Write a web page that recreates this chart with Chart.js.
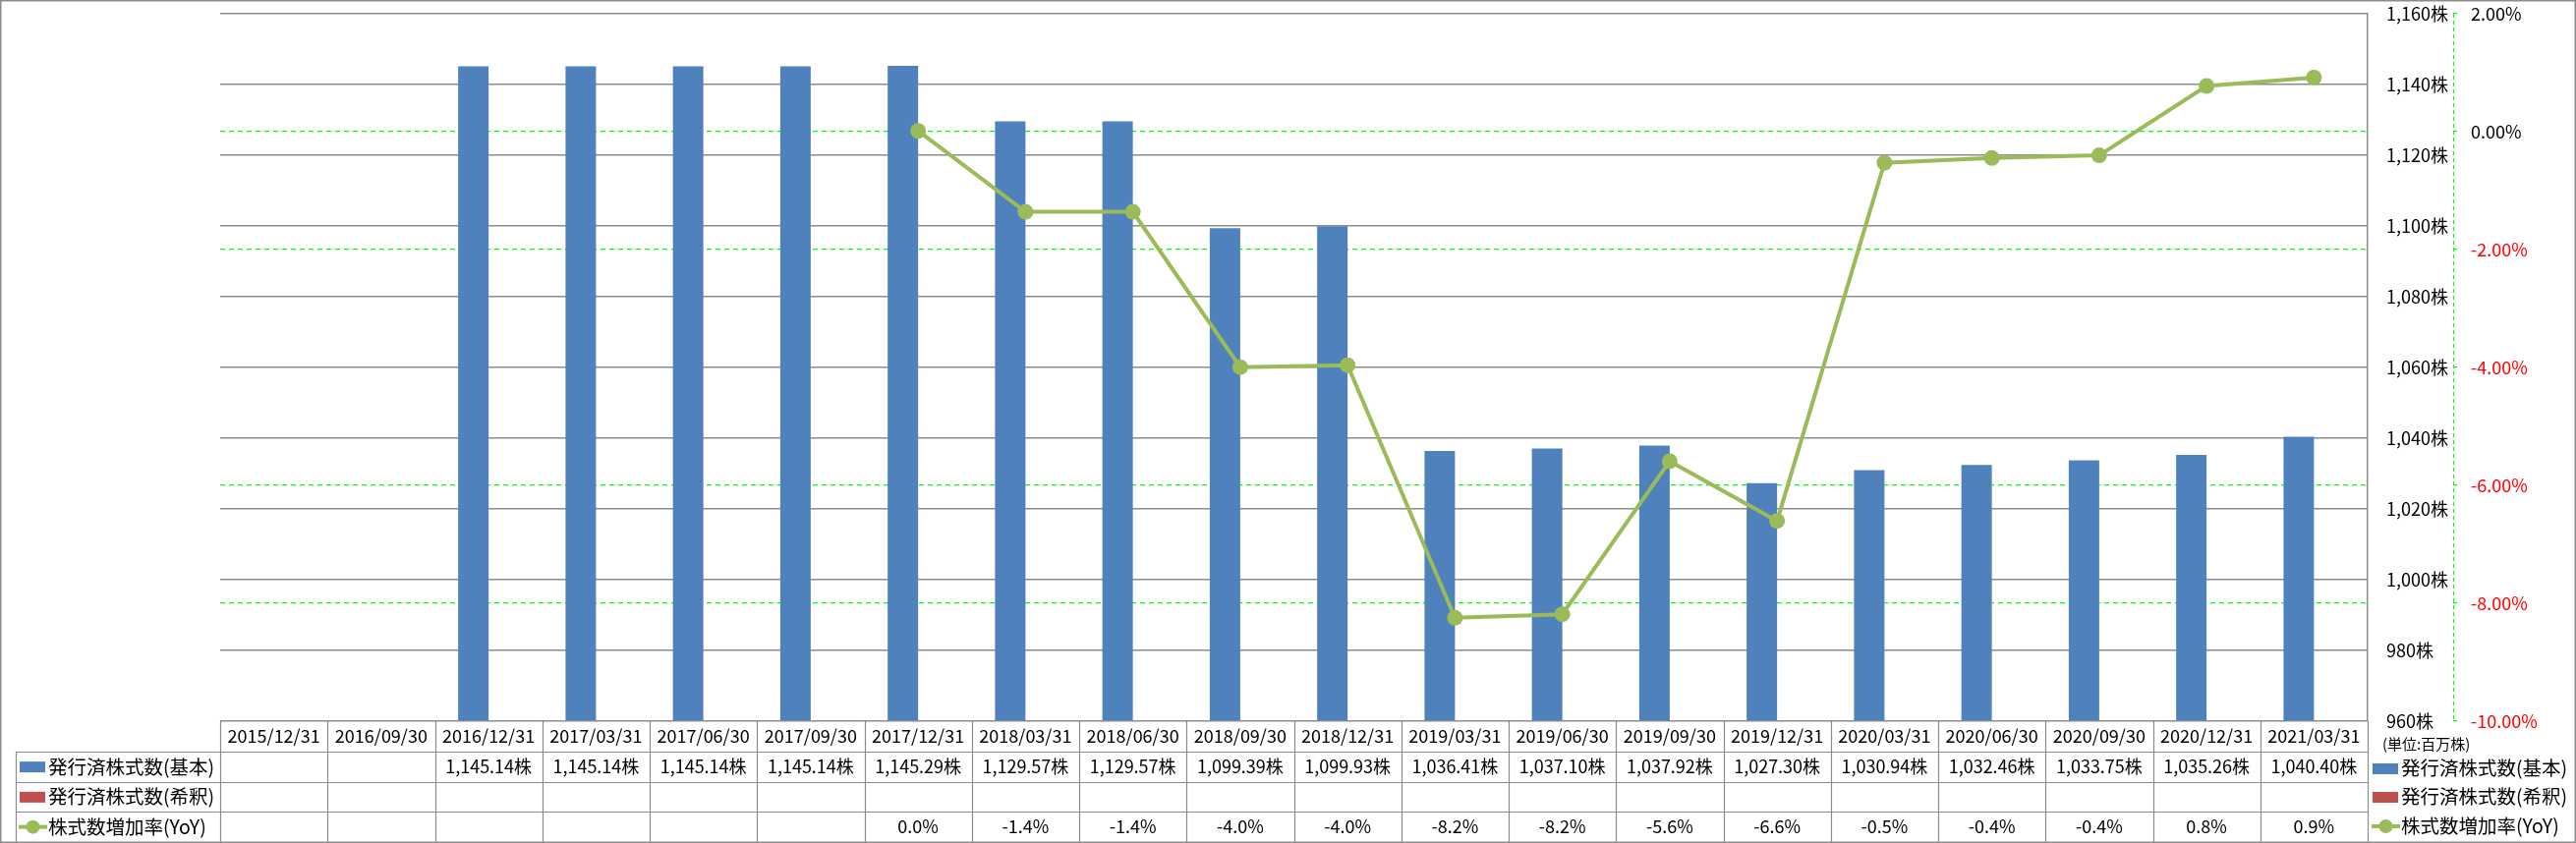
<!DOCTYPE html>
<html>
<head>
<meta charset="utf-8">
<script src="https://cdn.jsdelivr.net/npm/chart.js@4.4.0/dist/chart.umd.min.js"></script>
<style>
  html, body { margin: 0; padding: 0; background: #fff; }
  #wrap { width: 2621px; height: 858px; }
</style>
</head>
<body>
<div id="wrap"><canvas id="shares-chart" width="2621" height="858"></canvas></div>
<script>
// data
const periods = ['2015/12/31', '2016/09/30', '2016/12/31', '2017/03/31', '2017/06/30', '2017/09/30',
  '2017/12/31', '2018/03/31', '2018/06/30', '2018/09/30', '2018/12/31', '2019/03/31', '2019/06/30',
  '2019/09/30', '2019/12/31', '2020/03/31', '2020/06/30', '2020/09/30', '2020/12/31', '2021/03/31'];
const basicShares = [null, null, 1145.14, 1145.14, 1145.14, 1145.14, 1145.29, 1129.57, 1129.57, 1099.39,
  1099.93, 1036.41, 1037.10, 1037.92, 1027.30, 1030.94, 1032.46, 1033.75, 1035.26, 1040.40];
const dilutedShares = [null, null, null, null, null, null, null, null, null, null,
  null, null, null, null, null, null, null, null, null, null];
const yoyRate = [null, null, null, null, null, null, 0.013, -1.36, -1.36, -3.995,
  -3.961, -8.247, -8.186, -5.591, -6.603, -0.528, -0.447, -0.402, 0.775, 0.918];
const seriesNames = ['発行済株式数(基本)', '発行済株式数(希釈)', '株式数増加率(YoY)'];
const sharesTicks = [960, 980, 1000, 1020, 1040, 1060, 1080, 1100, 1120, 1140, 1160];
const rateTicks = [-10, -8, -6, -4, -2, 0, 2];
const unitLabel = '(単位:百万株)';

const basicColor = '#4f81bd';
const dilutedColor = '#c0504d';
const lineColor = '#9bbb59';
const gridGray = '#8c8c8c';
const dashGreen = '#00ff00';
const fontFamily = "'Noto Sans CJK JP', 'Noto Sans', sans-serif";

function fmtShares(v) {
  return v.toLocaleString('en-US', { minimumFractionDigits: 2, maximumFractionDigits: 2 }) + '株';
}

function drawLegendSymbol(ctx, i, x, y) {
  if (i < 2) {
    ctx.fillStyle = i === 0 ? basicColor : dilutedColor;
    ctx.fillRect(x, y - 5, 26, 11);
  } else {
    ctx.strokeStyle = lineColor;
    ctx.lineWidth = 4;
    ctx.beginPath();
    ctx.moveTo(x - 1, y);
    ctx.lineTo(x + 28, y);
    ctx.stroke();
    ctx.fillStyle = lineColor;
    ctx.beginPath();
    ctx.arc(x + 13.5, y, 7, 0, Math.PI * 2);
    ctx.fill();
  }
}

// the axes should not push the plot down, Excel keeps it at the frame
function fixAxis(width) {
  return s => {
    s.width = width;
    s.paddingTop = 0;
    s.paddingBottom = 0;
  };
}

/* draws the data table under the plot, both legends and the frame */
const dataTablePlugin = {
  id: 'dataTable',
  beforeDraw(chart) {
    const ctx = chart.ctx;
    ctx.save();
    ctx.fillStyle = '#fff';
    ctx.fillRect(0, 0, chart.width, chart.height);
    ctx.restore();
  },
  afterDraw(chart) {
    const ctx = chart.ctx;
    const area = chart.chartArea;
    const colW = (area.right - area.left) / periods.length;
    const tableTop = area.bottom;
    const tableBottom = chart.height - 1;
    const rowH = (tableBottom - tableTop) / 4;
    const leftEdge = 16;

    ctx.save();

    // dashed axis line of the rate axis
    const y2 = chart.scales.y2;
    ctx.strokeStyle = dashGreen;
    ctx.lineWidth = 1.2;
    ctx.setLineDash([4, 3]);
    ctx.beginPath();
    ctx.moveTo(Math.round(y2.left) + 0.5, area.top);
    ctx.lineTo(Math.round(y2.left) + 0.5, area.bottom);
    ctx.stroke();
    ctx.setLineDash([]);

    // table grid
    ctx.strokeStyle = gridGray;
    ctx.lineWidth = 1.2;
    ctx.beginPath();
    for (let r = 1; r < 4; r++) {
      const yy = Math.round(tableTop + r * rowH) + 0.5;
      ctx.moveTo(leftEdge, yy);
      ctx.lineTo(area.right, yy);
    }
    for (let c = 0; c <= periods.length; c++) {
      const xx = Math.round(area.left + c * colW) + 0.5;
      ctx.moveTo(xx, tableTop);
      ctx.lineTo(xx, tableBottom);
    }
    ctx.moveTo(leftEdge + 0.5, tableTop + rowH);
    ctx.lineTo(leftEdge + 0.5, tableBottom);
    ctx.stroke();

    // table texts
    ctx.fillStyle = '#000';
    ctx.font = '18px ' + fontFamily;
    ctx.textAlign = 'center';
    ctx.textBaseline = 'middle';
    periods.forEach((p, i) => {
      const cx = area.left + (i + 0.5) * colW;
      ctx.fillText(p, cx, tableTop + rowH * 0.5);
      if (basicShares[i] !== null) ctx.fillText(fmtShares(basicShares[i]), cx, tableTop + rowH * 1.5);
      if (dilutedShares[i] !== null) ctx.fillText(fmtShares(dilutedShares[i]), cx, tableTop + rowH * 2.5);
      if (yoyRate[i] !== null) ctx.fillText(yoyRate[i].toFixed(1) + '%', cx, tableTop + rowH * 3.5);
    });

    // legend inside the table
    ctx.textAlign = 'left';
    seriesNames.forEach((name, i) => {
      const cy = tableTop + rowH * (i + 1.5);
      drawLegendSymbol(ctx, i, 20, cy);
      ctx.fillStyle = '#000';
      ctx.font = '19.5px ' + fontFamily;
      ctx.fillText(name, 49, cy);
    });

    // legend at the right
    ctx.font = '15px ' + fontFamily;
    ctx.fillText(unitLabel, 2424, 757);
    const rightRows = [782, 811, 841];
    seriesNames.forEach((name, i) => {
      drawLegendSymbol(ctx, i, 2414, rightRows[i]);
      ctx.fillStyle = '#000';
      ctx.font = '19.5px ' + fontFamily;
      ctx.fillText(name, 2443, rightRows[i]);
    });

    // outer frame
    ctx.strokeStyle = gridGray;
    ctx.lineWidth = 1.5;
    ctx.strokeRect(0.75, 0.75, chart.width - 1.5, chart.height - 1.5);
    ctx.restore();
  }
};

const hiddenRateLines = [-10, -4, 2];

new Chart(document.getElementById('shares-chart'), {
  type: 'bar',
  data: {
    labels: periods,
    datasets: [
      {
        label: seriesNames[0],
        data: basicShares,
        backgroundColor: basicColor,
        yAxisID: 'y',
        base: sharesTicks[0],
        order: 1
      },
      {
        label: seriesNames[1],
        data: dilutedShares,
        backgroundColor: dilutedColor,
        yAxisID: 'y',
        base: sharesTicks[0],
        order: 1
      },
      {
        type: 'line',
        label: seriesNames[2],
        data: yoyRate,
        yAxisID: 'y2',
        borderColor: lineColor,
        backgroundColor: lineColor,
        borderWidth: 4,
        pointRadius: 8,
        pointHoverRadius: 8,
        pointBorderWidth: 0,
        tension: 0,
        order: 0
      }
    ]
  },
  options: {
    responsive: false,
    animation: false,
    devicePixelRatio: 1,
    layout: { padding: { left: 224, right: 0, top: 14, bottom: 124 } },
    plugins: {
      legend: { display: false },
      tooltip: { enabled: false }
    },
    datasets: {
      bar: { categoryPercentage: 0.567, barPercentage: 1 }
    },
    scales: {
      x: { display: false, offset: true },
      y: {
        position: 'right',
        min: sharesTicks[0],
        max: sharesTicks[sharesTicks.length - 1],
        ticks: {
          stepSize: sharesTicks[1] - sharesTicks[0],
          padding: 19,
          color: '#000',
          font: { family: fontFamily, size: 18 },
          callback: v => v.toLocaleString('en-US') + '株'
        },
        grid: { color: gridGray, lineWidth: 1.5, drawTicks: false },
        border: { display: true, color: gridGray, width: 1.5 },
        afterFit: fixAxis(87)
      },
      y2: {
        position: 'right',
        min: rateTicks[0],
        max: rateTicks[rateTicks.length - 1],
        ticks: {
          stepSize: rateTicks[1] - rateTicks[0],
          padding: 14,
          color: c => c.tick.value < 0 ? '#ff0000' : '#000',
          font: { family: fontFamily, size: 18 },
          callback: v => v.toFixed(2) + '%'
        },
        grid: {
          color: c => hiddenRateLines.includes(c.tick && c.tick.value) ? 'rgba(0,0,0,0)' : dashGreen,
          tickColor: dashGreen,
          lineWidth: 1.2,
          tickLength: 4
        },
        border: { display: false, dash: [5, 4] },
        afterFit: fixAxis(125)
      }
    }
  },
  plugins: [dataTablePlugin]
});
</script>
</body>
</html>
